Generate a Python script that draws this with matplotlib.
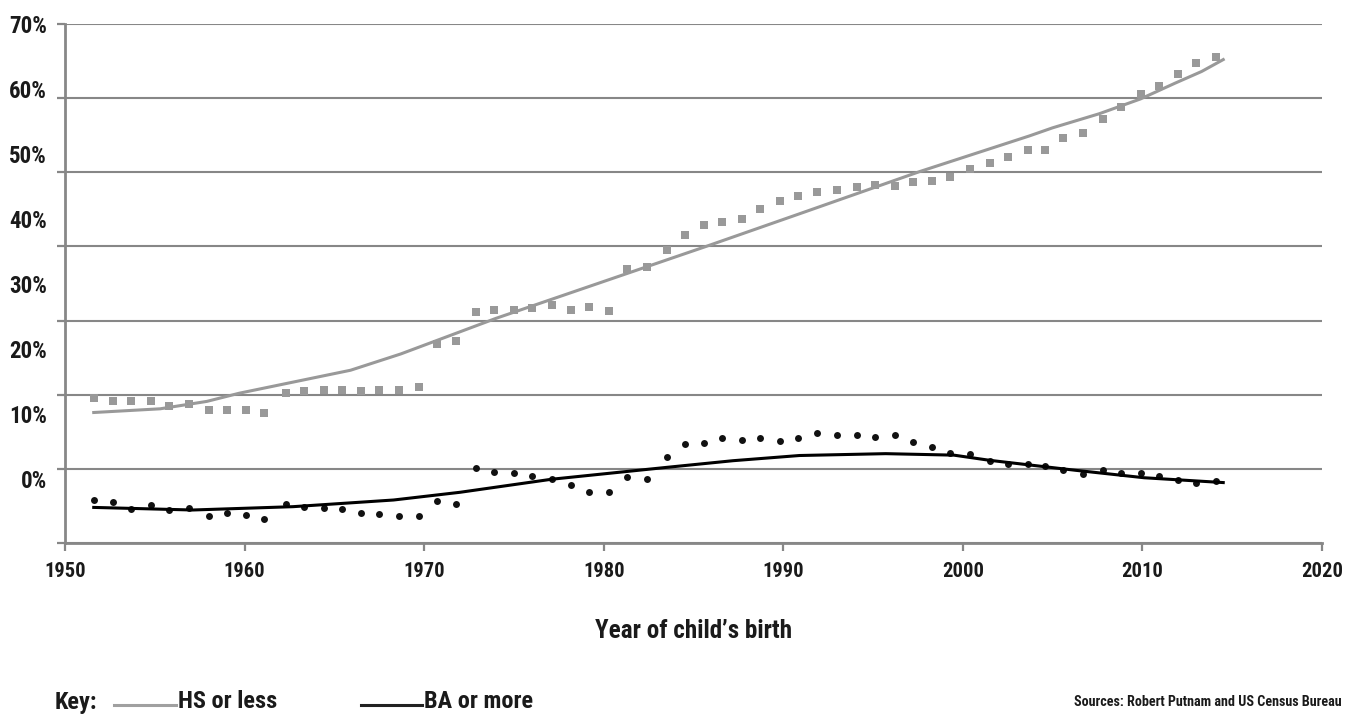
import os
import matplotlib
matplotlib.use("Agg")
import matplotlib.pyplot as plt
from matplotlib import font_manager as fm
from matplotlib.lines import Line2D
from matplotlib.textpath import TextPath

plt.rcParams['font.family'] = ['DejaVu Sans']
plt.rcParams['font.weight'] = 'bold'

# Birth years of the plotted points
years = [1951.6, 1952.7, 1953.7, 1954.8, 1955.8, 1956.9, 1958.0, 1959.0, 1960.1, 1961.1,
         1962.3, 1963.3, 1964.4, 1965.4, 1966.5, 1967.5, 1968.6, 1969.7, 1970.7, 1971.8,
         1972.9, 1973.9, 1975.0, 1976.0, 1977.1, 1978.2, 1979.2, 1980.3, 1981.3, 1982.4,
         1983.5, 1984.5, 1985.6, 1986.6, 1987.7, 1988.7, 1989.8, 1990.8, 1991.9, 1993.0,
         1994.1, 1995.1, 1996.2, 1997.2, 1998.3, 1999.3, 2000.4, 2001.5, 2002.5, 2003.6,
         2004.6, 2005.6, 2006.7, 2007.8, 2008.8, 2009.9, 2010.9, 2012.0, 2013.0, 2014.1]

# HS or less (squares)
hs_values = [19.5, 19.2, 19.1, 19.2, 18.5, 18.8, 18.0, 18.0, 18.0, 17.6,
             20.2, 20.5, 20.7, 20.7, 20.5, 20.7, 20.7, 21.0, 26.9, 27.2,
             31.1, 31.4, 31.4, 31.7, 32.1, 31.4, 31.8, 31.3, 36.9, 37.2,
             39.5, 41.5, 42.9, 43.3, 43.7, 45.0, 46.1, 46.8, 47.3, 47.6,
             48.0, 48.3, 48.1, 48.7, 48.8, 49.4, 50.5, 51.3, 52.0, 53.0,
             53.0, 54.6, 55.3, 57.2, 58.8, 60.5, 61.7, 63.2, 64.8, 65.5]

# BA or more (dots)
ba_values = [5.8, 5.5, 4.6, 5.1, 4.5, 4.7, 3.7, 4.0, 3.8, 3.3,
             5.2, 4.9, 4.7, 4.6, 4.1, 3.9, 3.7, 3.6, 5.6, 5.2,
             10.1, 9.6, 9.5, 9.0, 8.6, 7.8, 6.9, 6.9, 8.9, 8.6,
             11.6, 13.4, 13.5, 14.2, 13.9, 14.2, 13.8, 14.2, 14.8, 14.6,
             14.5, 14.3, 14.5, 13.6, 12.9, 12.2, 12.0, 11.1, 10.7, 10.7,
             10.4, 9.9, 9.3, 9.8, 9.4, 9.4, 9.1, 8.5, 8.1, 8.3]

# Trend lines
hs_trend_years = [1951.6, 1955.3, 1957.9, 1959.7, 1962.7, 1965.9, 1968.7, 1974.0, 1985.7,
                  1990.9, 1997.6, 2003.7, 2005.0, 2007.6, 2009.9, 2011.8, 2013.3, 2014.5]
hs_trend = [17.6, 18.1, 19.1, 20.2, 21.7, 23.3, 25.5, 30.3, 40.0,
            44.4, 50.1, 54.9, 56.0, 57.9, 59.9, 62.0, 63.6, 65.2]
ba_trend_years = [1951.6, 1957.1, 1962.7, 1968.3, 1972.0, 1977.1, 1983.5, 1987.2, 1990.9,
                  1995.7, 1999.5, 2001.5, 2006.3, 2010.1, 2014.5]
ba_trend = [4.8, 4.45, 4.9, 5.8, 6.84, 8.6, 10.2, 11.1, 11.8,
            12.05, 11.85, 11.15, 9.8, 8.8, 8.15]

grid_values = [0, 10, 20, 30, 40, 50, 60, 70]
pct_labels = [0, 10, 20, 30, 40, 50, 60, 70]
x_ticks = [1950, 1960, 1970, 1980, 1990, 2000, 2010, 2020]

GRAY = '#999999'
LINE_GRAY = '#878787'
TXT = '#1a1a1a'


# look for a narrow bold face, the original uses a very condensed font
def find_narrow():
    prefs = ['notosans-extracondensedbold', 'notosans-extracondensedsemibold',
             'liberationsansnarrow-bold', 'robotocondensed-bold', 'roboto_condensed-bold',
             'notosans-condensedbold', 'opensans_condensed-bold', 'opensans-condensedbold',
             'dejavusanscondensed-bold']
    files = [e.fname for e in fm.fontManager.ttflist]
    for p in prefs:
        for f in files:
            if os.path.basename(f).lower().startswith(p):
                return fm.FontProperties(fname=f)
    return fm.FontProperties(family='DejaVu Sans', weight='bold')


FP = find_narrow()


def fit_size(text, target_px, max_pt):
    w = TextPath((0, 0), text, size=10, prop=FP).get_extents().width * 100 / 72
    return min(max_pt, 10 * target_px / w)


def fprop(size):
    p = FP.copy()
    p.set_size(size)
    return p


fig = plt.figure(figsize=(13.55, 7.17), dpi=100)
ax = fig.add_axes([65 / 1355, 1 - 543 / 717, (1322 - 65) / 1355, (543 - 24) / 717])

ax.plot(years, hs_values, linestyle='none', marker='s', markersize=5.4,
        color=GRAY, markeredgewidth=0, zorder=3)
ax.plot(hs_trend_years, hs_trend, color=GRAY, linewidth=2.2, zorder=4)
ax.plot(years, ba_values, linestyle='none', marker='o', markersize=5,
        color='#111111', markeredgewidth=0, zorder=3)
ax.plot(ba_trend_years, ba_trend, color='black', linewidth=2.2, zorder=4)

ax.set_xlim(1950, 2020)
ax.set_ylim(0, 70)
ax.set_xticks(x_ticks)
ax.set_xticklabels([str(t) for t in x_ticks], color=TXT)
xs = fit_size('1950', 39, 16)
for lab in ax.get_xticklabels():
    lab.set_fontproperties(fprop(xs))
ax.set_yticks(grid_values)
ax.set_yticklabels([])
ax.tick_params(axis='both', direction='out', length=6, width=1.6, colors=LINE_GRAY)
ax.tick_params(axis='x', pad=8, labelcolor=TXT)
ax.grid(axis='y', color=LINE_GRAY, linewidth=1.5, zorder=0)
ax.set_axisbelow(True)
for side in ['top', 'right']:
    ax.spines[side].set_visible(False)
for side in ['left', 'bottom']:
    ax.spines[side].set_color(LINE_GRAY)
    ax.spines[side].set_linewidth(2)

# percent labels sit on their own (compressed) scale
a, b = 8.632, (70 - 8.632) / 70
sec = ax.secondary_yaxis('left', functions=(lambda v: (v - a) / b, lambda p: a + b * p))
sec.set_yticks(pct_labels)
sec.set_yticklabels([f'{p}%' for p in pct_labels], color=TXT)
ys = fit_size('70%', 36, 17)
for lab in sec.get_yticklabels():
    lab.set_fontproperties(fprop(ys))
sec.tick_params(length=0, pad=13)
sec.spines['left'].set_visible(False)

ax.set_xlabel("Year of child\u2019s birth", color=TXT, labelpad=27,
              fontproperties=fprop(fit_size("Year of child\u2019s birth", 196, 20)))

# key
fy = 1 - 702 / 717
ks = fit_size('HS or less', 97, 19)
fig.text(55 / 1355, fy, 'Key:', color=TXT, va='center', fontproperties=fprop(ks))
fig.add_artist(Line2D([114 / 1355, 176 / 1355], [fy - 0.004, fy - 0.004], color='#a0a0a0', linewidth=2.2))
fig.text(178 / 1355, fy, 'HS or less', color=TXT, va='center', fontproperties=fprop(ks))
fig.add_artist(Line2D([361 / 1355, 422 / 1355], [fy - 0.004, fy - 0.004], color='#222222', linewidth=2.2))
fig.text(424 / 1355, fy, 'BA or more', color=TXT, va='center', fontproperties=fprop(ks))
src = 'Sources: Robert Putnam and US Census Bureau'
fig.text(1342 / 1355, fy, src, color=TXT, ha='right', va='center',
         fontproperties=fprop(fit_size(src, 267, 11)))

fig.savefig('out.png', dpi=100)
